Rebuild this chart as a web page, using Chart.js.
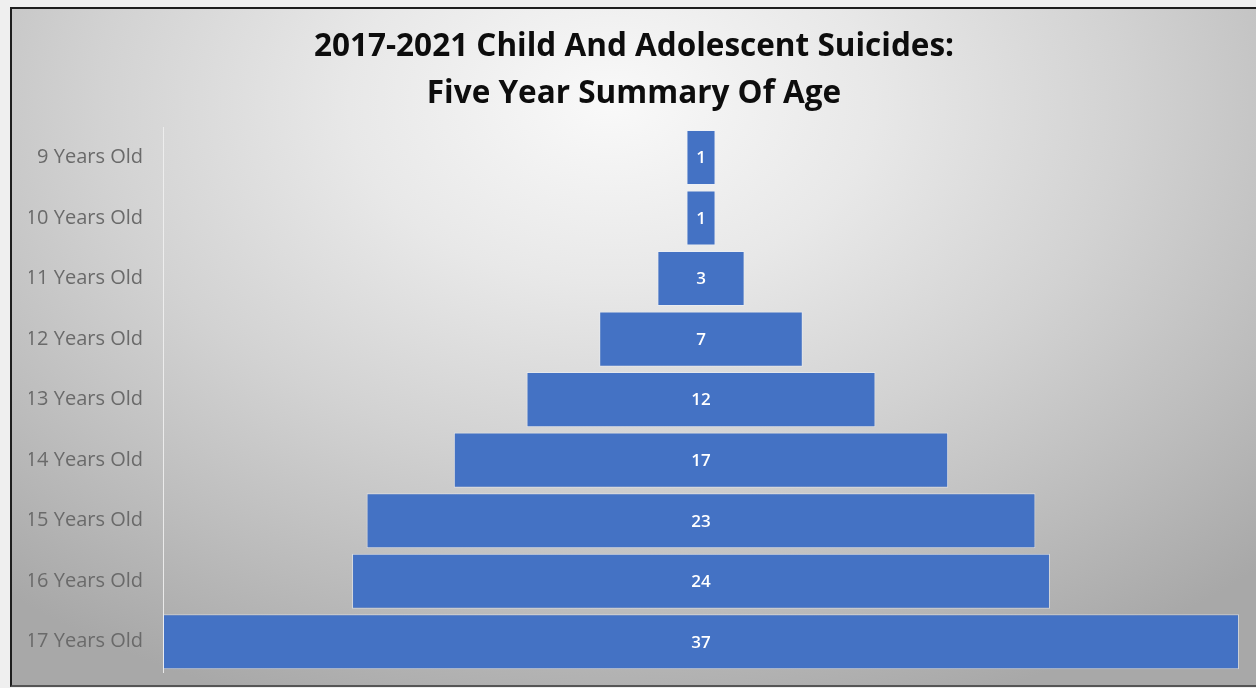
<!DOCTYPE html>
<html>
<head>
<meta charset="utf-8">
<script src="https://cdn.jsdelivr.net/npm/chart.js@4"></script>
<style>
    html, body {
        margin: 0;
        padding: 0;
        background: #efefef;
        overflow: hidden;
    }
    .frame {
        position: absolute;
        left: 10px;
        top: 7px;
        width: 1250px;
        height: 676px;
        border: 2px solid #1e1e1e;
        border-bottom-color: #555;
        background: radial-gradient(ellipse 75% 95% at 48% 14%, #f9f9f9 0%, #e8e8e8 28%, #d2d2d2 55%, #bbbbbb 80%, #a8a8a8 100%);
    }
    #funnelChart {
        position: absolute;
        left: 0;
        top: 0;
    }
</style>
</head>
<body>
<div class="frame">
    <canvas id="funnelChart" width="1244" height="676"></canvas>
</div>
<script>
const titleLines = ['2017-2021 Child And Adolescent Suicides:', 'Five Year Summary Of Age'];
const ageLabels = ['9 Years Old', '10 Years Old', '11 Years Old', '12 Years Old', '13 Years Old',
    '14 Years Old', '15 Years Old', '16 Years Old', '17 Years Old'];
const suicideCounts = [1, 1, 3, 7, 12, 17, 23, 24, 37];

// each bar is centred on zero so the stack reads as a funnel
const maxCount = Math.max(...suicideCounts);
const floatingBars = suicideCounts.map(v => [-v / 2, v / 2]);

// writes the count in the middle of every bar
const barValueLabels = {
    id: 'barValueLabels',
    afterDatasetsDraw(chart) {
        const ctx = chart.ctx;
        const meta = chart.getDatasetMeta(0);
        ctx.save();
        ctx.fillStyle = '#ffffff';
        ctx.font = '600 17px "Open Sans", sans-serif';
        ctx.textAlign = 'center';
        ctx.textBaseline = 'middle';
        meta.data.forEach((bar, i) => {
            const cx = (bar.x + bar.base) / 2;
            ctx.fillText(String(suicideCounts[i]), cx, bar.y + 1);
        });
        ctx.restore();
    }
};

const data = {
    labels: ageLabels,
    datasets: [{
        data: floatingBars,
        backgroundColor: '#4472c4',
        borderColor: 'rgba(235, 240, 250, 0.55)',
        borderWidth: 1,
        borderSkipped: false,
        categoryPercentage: 1,
        barPercentage: 0.91
    }]
};

const config = {
    type: 'bar',
    data,
    options: {
        indexAxis: 'y',
        responsive: false,
        animation: false,
        layout: {
            // equal side padding keeps the title centred on the whole canvas
            padding: {left: 17, right: 17, top: 0, bottom: 13}
        },
        plugins: {
            legend: {display: false},
            tooltip: {enabled: false},
            title: {
                display: true,
                text: titleLines,
                color: '#0d0d0d',
                font: {family: '"Open Sans", sans-serif', size: 31.5, weight: 'bold', lineHeight: 1.48},
                padding: {top: 15, bottom: 10}
            }
        },
        scales: {
            x: {
                display: false,
                min: -maxCount / 2,
                max: maxCount / 2
            },
            y: {
                afterFit: scale => {
                    // fixed label column, and no extra room reserved above/below the bars
                    scale.width = 134;
                    scale.paddingTop = 0;
                    scale.paddingBottom = 0;
                },
                grid: {display: false, drawTicks: false},
                border: {display: true, color: 'rgba(240, 240, 240, 0.9)', width: 1},
                ticks: {
                    padding: 20,
                    color: '#6a6a6a',
                    font: {family: '"Open Sans", sans-serif', size: 20}
                }
            }
        }
    },
    plugins: [barValueLabels]
};

new Chart(document.getElementById('funnelChart'), config);
</script>
</body>
</html>
